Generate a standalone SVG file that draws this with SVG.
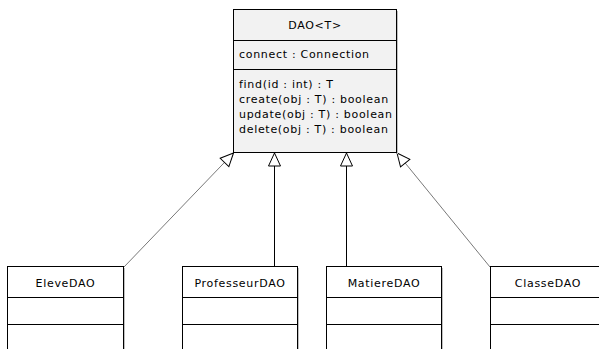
<svg xmlns="http://www.w3.org/2000/svg" width="599" height="349" viewBox="0 0 599 349">
<style>
.box{fill:#ffffff;stroke:#000000;stroke-width:1}
.main{fill:#f2f2f2;stroke:#000000;stroke-width:1}
.sep{stroke:#000000;stroke-width:1}
.shadow{stroke:#c0c0c0;stroke-width:1;fill:none}
text{font-family:"DejaVu Sans","Liberation Sans",sans-serif;font-size:11px;letter-spacing:0.7px;fill:#000000}
.c{text-anchor:middle}
.line{stroke:#000000;stroke-width:1;fill:none}
.diag{stroke:#555555;stroke-width:0.8;fill:none}
.tri{fill:#ffffff;stroke:#000000;stroke-width:1}
</style>
<rect width="599" height="349" fill="#ffffff"/>
<g id="connectors">
  <line class="diag" x1="124" y1="267" x2="233.5" y2="153"/>
  <line class="line" x1="274.5" y1="267" x2="274.5" y2="153"/>
  <line class="line" x1="346.5" y1="267" x2="346.5" y2="153"/>
  <line class="diag" x1="490" y1="267" x2="397" y2="153"/>
  <polygon class="tri" points="274.5,153 268.5,166 280.5,166"/>
  <polygon class="tri" points="346.5,153 340.5,166 352.5,166"/>
  <polygon class="tri" transform="rotate(43.7 233.5 153)" points="233.5,153 227.5,166 239.5,166"/>
  <polygon class="tri" transform="rotate(-39 397 153)" points="397,153 391,166 403,166"/>
</g>
<g id="DAO">
  <line class="shadow" x1="397.5" y1="11" x2="397.5" y2="154"/>
  <rect class="main" x="233.5" y="9.5" width="163" height="143"/>
  <line class="sep" x1="233.5" y1="40.5" x2="396.5" y2="40.5"/>
  <line class="sep" x1="233.5" y1="69.5" x2="396.5" y2="69.5"/>
  <text class="c" x="315" y="29">DAO&lt;T&gt;</text>
  <text x="239" y="58">connect : Connection</text>
  <text x="239" y="88">find(id : int) : T</text>
  <text x="239" y="103">create(obj : T) : boolean</text>
  <text x="239" y="118">update(obj : T) : boolean</text>
  <text x="239" y="133">delete(obj : T) : boolean</text>
</g>
<g id="EleveDAO">
  <line class="shadow" x1="124.5" y1="268" x2="124.5" y2="349"/>
  <rect class="box" x="7.5" y="266.5" width="116" height="90"/>
  <line class="sep" x1="7.5" y1="297.5" x2="123.5" y2="297.5"/>
  <line class="sep" x1="7.5" y1="324.5" x2="123.5" y2="324.5"/>
  <text class="c" x="65.5" y="287">EleveDAO</text>
</g>
<g id="ProfesseurDAO">
  <line class="shadow" x1="298.5" y1="268" x2="298.5" y2="349"/>
  <rect class="box" x="182.5" y="266.5" width="115" height="90"/>
  <line class="sep" x1="182.5" y1="297.5" x2="297.5" y2="297.5"/>
  <line class="sep" x1="182.5" y1="324.5" x2="297.5" y2="324.5"/>
  <text class="c" x="240" y="287">ProfesseurDAO</text>
</g>
<g id="MatiereDAO">
  <line class="shadow" x1="442.5" y1="268" x2="442.5" y2="349"/>
  <rect class="box" x="326.5" y="266.5" width="115" height="90"/>
  <line class="sep" x1="326.5" y1="297.5" x2="441.5" y2="297.5"/>
  <line class="sep" x1="326.5" y1="324.5" x2="441.5" y2="324.5"/>
  <text class="c" x="384" y="287">MatiereDAO</text>
</g>
<g id="ClasseDAO">
  <rect class="box" x="490.5" y="266.5" width="120" height="90"/>
  <line class="sep" x1="490.5" y1="297.5" x2="599" y2="297.5"/>
  <line class="sep" x1="490.5" y1="324.5" x2="599" y2="324.5"/>
  <text class="c" x="548" y="287">ClasseDAO</text>
</g>
</svg>
